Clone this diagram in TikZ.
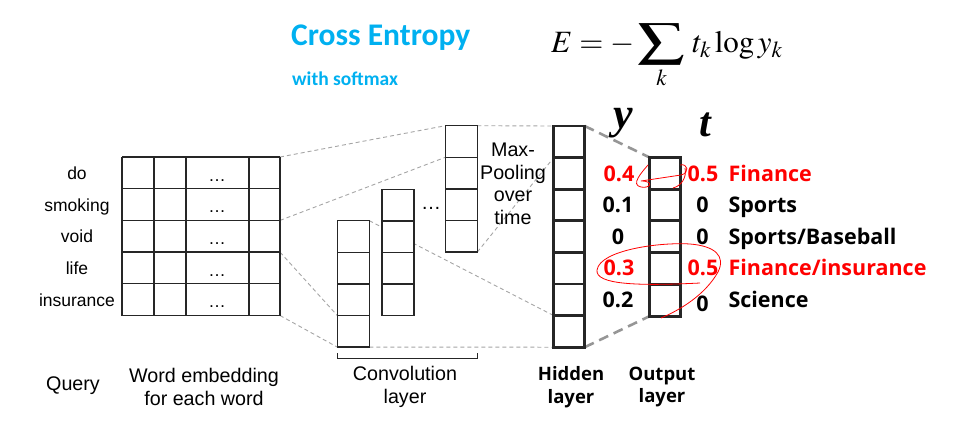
\documentclass[tikz,border=0pt]{standalone}
\usepackage{mathptmx}
\usepackage{graphicx}
\usepackage[no-math]{fontspec}
\setmainfont{Liberation Sans}
\newfontfamily\notob{Open Sans}
\newfontfamily\carl{Carlito}
\newfontfamily\serifbi{Liberation Serif}
\definecolor{ttl}{RGB}{0,176,240}
\definecolor{lnkgray}{RGB}{165,165,165}
\definecolor{lnkdark}{RGB}{150,150,150}
\usetikzlibrary{calc}
\pgfdeclarelayer{bg}
\pgfsetlayers{bg,main}
\begin{document}
\begin{tikzpicture}[x=1pt,y=-1pt,
  wlab/.style={font=\fontsize{17.5}{20}\selectfont, anchor=base},
  blab/.style={font=\fontsize{19.7}{22.5}\selectfont, align=center},
  hlab/.style={font=\notob\bfseries\fontsize{18.5}{22.5}\selectfont, align=center},
  num/.style={font=\notob\bfseries\fontsize{21.5}{26}\selectfont, anchor=base},
  cat/.style={font=\notob\bfseries\fontsize{21.5}{26}\selectfont, anchor=base west},
  lnk/.style={draw=lnkgray, line width=0.9pt, dash pattern=on 4pt off 3pt},
  lnkb/.style={draw=lnkdark, line width=2.6pt, dash pattern=on 10pt off 6pt},
  cell/.style={draw=black!85, line width=1.3pt, fill=white, minimum width=32pt, minimum height=31.6pt, inner sep=0pt, outer sep=0pt},
  hcell/.style={cell, line width=2.8pt, minimum width=31pt},
  gridl/.style={draw=black!85, line width=1.3pt},
  scrib/.style={draw=red, line width=0.8pt}
]
\useasboundingbox (0,0) rectangle (961,424);

% ---- title and formula
\node[font=\carl\bfseries\fontsize{31.5}{36}\selectfont, text=ttl, anchor=base west, inner sep=0] (title) at (291,45) {Cross Entropy};
\node[font=\carl\bfseries\fontsize{19.5}{22}\selectfont, text=ttl, anchor=base west, inner sep=0] (sub) at (292,85) {with softmax};
\node[font=\fontsize{31}{38}\selectfont, anchor=base west, inner sep=0] (formula) at (551,52)
  {$\displaystyle E=-\mathop{\scalebox{1.5}[1.07]{$\displaystyle\sum$}}\limits_k \, t_k\log y_k$};

% ---- word embedding grid
\foreach \yy in {157,188.7,220.4,252.1,283.8,315.5} \draw[gridl] (122,\yy) -- (280,\yy);
\foreach \xx in {122,154,186,249,280} \draw[gridl] (\xx,157) -- (\xx,315.5);
\coordinate (gA) at (280,157);
\coordinate (gB) at (280,220.4);
\coordinate (gC) at (280,252.1);
\coordinate (gD) at (280,315.5);

\foreach \w [count=\i from 0] in {do,smoking,void,life,insurance}{
  \node[wlab] (w\i) at (77,{179.3+31.7*\i}) {\w};
  \node[wlab] (d\i) at (217,{181+31.7*\i}) {\dots};
}

% ---- convolution columns
\foreach \k in {1,...,4}{
  \node[cell] (c1-\k) at (353.3,{236.5+31.6*(\k-1)}) {};
  \node[cell] (c2-\k) at (398,{205.1+31.6*(\k-1)}) {};
  \node[cell] (c3-\k) at (461.3,{141.5+31.6*(\k-1)}) {};
}
\node[font=\fontsize{20}{22}\selectfont, anchor=base] (cdots) at (431,209) {\dots};

% ---- hidden layer
\foreach \k in {1,...,7}{
  \node[hcell] (h\k) at (569.2,{141.8+31.6*(\k-1)}) {};
}
% ---- output layer
\foreach \k in {1,...,5}{
  \node[hcell] (o\k) at (665,{173.2+31.8*(\k-1)}) {};
}

% ---- dashed connectors
\begin{pgfonlayer}{bg}
\draw[lnk] (gA) -- (c3-1.north west);
\draw[lnk] (gB) -- (c3-1.south west);
\draw[lnk] (gC) -- (c1-4.north west);
\draw[lnk] (gD) -- (c1-4.south west);
\draw[lnk] (c1-1.north east) -- (h7.north west);
\draw[lnk] (c1-4.south east) -- (h7.south west);
\draw[lnk] (c3-1.north east) -- (h1.north west);
\draw[lnk] (c3-4.south east) -- (h2.north west);
\draw[lnkb] (h1.north east) -- (o1.north west);
\draw[lnkb] (h7.south east) -- (o5.south west);
\end{pgfonlayer}

% ---- bracket
\coordinate (bl) at (337.5,353.3);
\coordinate (br) at (477.5,353.3);
\draw[line width=1.3pt, draw=black!85] (bl) -- ++(0,5) -| (br);

% ---- labels
\node[blab] (mp) at (513,184) {Max-\\Pooling\\over\\time};
\node[blab, anchor=base] (query) at (73,390) {Query};
\node[blab] (we) at (204,387) {Word embedding\\for each word};
\node[blab] (cl) at (405,387) {Convolution\\layer};
\node[hlab] (hl) at (571,387) {Hidden\\layer};
\node[hlab] (ol) at (662,387) {Output\\layer};

\node[font=\serifbi\bfseries\itshape\fontsize{44}{46}\selectfont, anchor=base] (ylab) at (623,128) {y};
\node[font=\serifbi\bfseries\itshape\fontsize{42}{44}\selectfont, anchor=base] (tlab) at (705,136) {t};

% ---- values
\node[num, text=red] (y1) at (619,181) {0.4};
\node[num] (y2) at (618,212.6) {0.1};
\node[num] (y3) at (618,244.2) {0};
\node[num, text=red] (y4) at (619,275.8) {0.3};
\node[num] (y5) at (618,307.4) {0.2};

\node[num, text=red] (t1) at (703,181) {0.5};
\node[num] (t2) at (702.5,212.6) {0};
\node[num] (t3) at (702.5,244.2) {0};
\node[num, text=red] (t4) at (703,275.8) {0.5};
\node[num] (t5) at (702.5,311) {0};

\node[cat, text=red] (k1) at (725,181) {Finance};
\node[cat] (k2) at (725,212.6) {Sports};
\node[cat] (k3) at (725,244.2) {Sports/Baseball};
\node[cat, text=red] (k4) at (725,275.8) {Finance/insurance};
\node[cat] (k5) at (725,307.4) {Science};

% ---- red hand-drawn marks
\draw[scrib] (648,165) .. controls (642,172) and (630,185) .. (641,187)
  .. controls (650,189) and (655,181) .. (641,181) -- (681,175)
  .. controls (690,173) and (688,163) .. (680,165);
\draw[scrib] (685,168) .. controls (687,178) and (681,186) .. (673,188);
\draw[scrib] (700,283) .. controls (640,286) and (595,285) .. (597,270)
  .. controls (600,250) and (660,242) .. (690,244)
  .. controls (715,246) and (726,256) .. (718,272)
  .. controls (705,295) and (680,310) .. (661,318);
\end{tikzpicture}
\end{document}
